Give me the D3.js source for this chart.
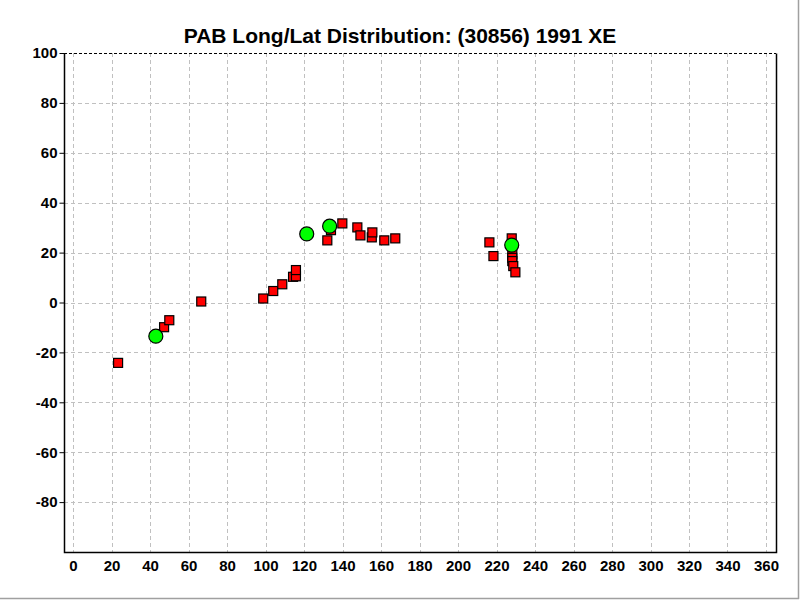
<!DOCTYPE html>
<html>
<head>
<meta charset="utf-8">
<script src="https://cdn.jsdelivr.net/npm/d3@7"></script>
<style>
  body { margin: 0; background: #fff; }
  svg { display: block; font-family: "Liberation Sans", Arial, sans-serif; }
</style>
</head>
<body>
<svg id="chart" width="800" height="600"></svg>
<script>
// Titolo e tick
const chartTitle = "PAB Long/Lat Distribution: (30856) 1991 XE";
const xTicks = d3.range(0, 361, 20);
const yTicks = [100, 80, 60, 40, 20, 0, -20, -40, -60, -80];

// Osservazioni (quadrati rossi): longitudine, latitudine
const obsLong = [23.4, 47.3, 50.0, 66.6, 98.8, 104.0, 108.7, 114.3, 115.8, 115.8,
                 132.1, 134.0, 139.9, 147.7, 149.3, 155.2, 155.5, 161.7, 167.4,
                 216.3, 218.4, 227.9, 228.2, 228.2, 228.2, 228.7, 229.8];
const obsLat  = [-24.2, -9.9, -7.1, 0.4, 1.6, 4.6, 7.3, 10.3, 10.5, 13.0,
                 24.9, 29.0, 31.7, 30.1, 26.9, 26.1, 28.1, 24.9, 25.7,
                 24.1, 18.6, 25.7, 19.3, 17.9, 16.6, 14.6, 12.1];

// Cerchi verdi
const keyLong = [43.0, 121.4, 133.3, 227.9];
const keyLat  = [-13.5, 27.5, 30.6, 23.0];

const margin = {left: 64, right: 24, top: 53, bottom: 48};
const width = 800, height = 600;

const svg = d3.select("#chart");

let xScale = d3.scaleLinear().domain([-4.7, 365.2]).range([margin.left, width - margin.right]);
let yScale = d3.scaleLinear().domain([-100, 100]).range([height - margin.bottom, margin.top]);

// cornice grigia della finestra
svg.append("line").attr("x1", 798.5).attr("x2", 798.5).attr("y1", 0).attr("y2", 599)
    .attr("stroke", "#a0a0a0").attr("stroke-width", 1.5);
svg.append("line").attr("x1", 0).attr("x2", 799).attr("y1", 598.5).attr("y2", 598.5)
    .attr("stroke", "#a0a0a0").attr("stroke-width", 1.5);

// griglia
svg.append("g")
    .selectAll("line")
    .data(xTicks)
    .enter()
    .append("line")
    .attr("x1", d => Math.round(xScale(d)) + 0.5)
    .attr("x2", d => Math.round(xScale(d)) + 0.5)
    .attr("y1", yScale(100))
    .attr("y2", yScale(-100))
    .attr("stroke", "#c0c0c0")
    .attr("stroke-dasharray", "4,3");

svg.append("g")
    .selectAll("line")
    .data(yTicks.filter(d => d !== 100))
    .enter()
    .append("line")
    .attr("x1", xScale.range()[0])
    .attr("x2", xScale.range()[1])
    .attr("y1", d => Math.round(yScale(d)) + 0.5)
    .attr("y2", d => Math.round(yScale(d)) + 0.5)
    .attr("stroke", "#c0c0c0")
    .attr("stroke-dasharray", "4,3");

// bordo: sopra tratteggiato, altri pieni
const x0 = xScale.range()[0], x1 = xScale.range()[1];
const yTop = Math.round(yScale(100)) + 0.5, yBot = Math.round(yScale(-100)) + 0.5;
svg.append("line").attr("x1", x0).attr("x2", x1).attr("y1", yTop).attr("y2", yTop)
    .attr("stroke", "#000").attr("stroke-dasharray", "3,2");
svg.append("path")
    .attr("d", `M${x0 + 0.5},${yTop}V${yBot}H${x1 + 0.5}V${yTop}`)
    .attr("fill", "none").attr("stroke", "#000").attr("stroke-width", 1.5);

// assi (trattino normale per i negativi)
const plainFormat = d => String(d);
const xAxis = d3.axisBottom(xScale).tickValues(xTicks).tickFormat(plainFormat).tickSize(5).tickPadding(3);
const yAxis = d3.axisLeft(yScale).tickValues(yTicks).tickFormat(plainFormat).tickSize(5).tickPadding(2);

const gx = svg.append("g").attr("transform", `translate(0,${yBot})`).call(xAxis);
const gy = svg.append("g").attr("transform", `translate(${x0 + 0.5},0)`).call(yAxis);
[gx, gy].forEach(g => {
    g.select(".domain").remove();
    g.selectAll("text")
        .attr("font-family", "Liberation Sans, Arial, sans-serif")
        .attr("font-size", 15)
        .attr("font-weight", "bold")
        .attr("fill", "#000");
    g.selectAll("line").attr("stroke", "#000");
});
gx.selectAll("line").remove();

// titolo
svg.append("text")
    .attr("x", 400)
    .attr("y", 43)
    .attr("text-anchor", "middle")
    .attr("font-size", 21)
    .attr("font-weight", "bold")
    .text(chartTitle);

// quadrati rossi
const obsData = obsLong.map((d, i) => ({x: d, y: obsLat[i]}));
svg.append("g")
    .selectAll("rect")
    .data(obsData)
    .enter()
    .append("rect")
    .attr("x", d => xScale(d.x) - 4.5)
    .attr("y", d => yScale(d.y) - 4.5)
    .attr("width", 9)
    .attr("height", 9)
    .attr("fill", "#ff0000")
    .attr("stroke", "#000")
    .attr("stroke-width", 1.2);

// cerchi verdi
const keyData = keyLong.map((d, i) => ({x: d, y: keyLat[i]}));
svg.append("g")
    .selectAll("circle")
    .data(keyData)
    .enter()
    .append("circle")
    .attr("cx", d => xScale(d.x))
    .attr("cy", d => yScale(d.y))
    .attr("r", 7)
    .attr("fill", "#00ff00")
    .attr("stroke", "#000")
    .attr("stroke-width", 1.2);
</script>
</body>
</html>
